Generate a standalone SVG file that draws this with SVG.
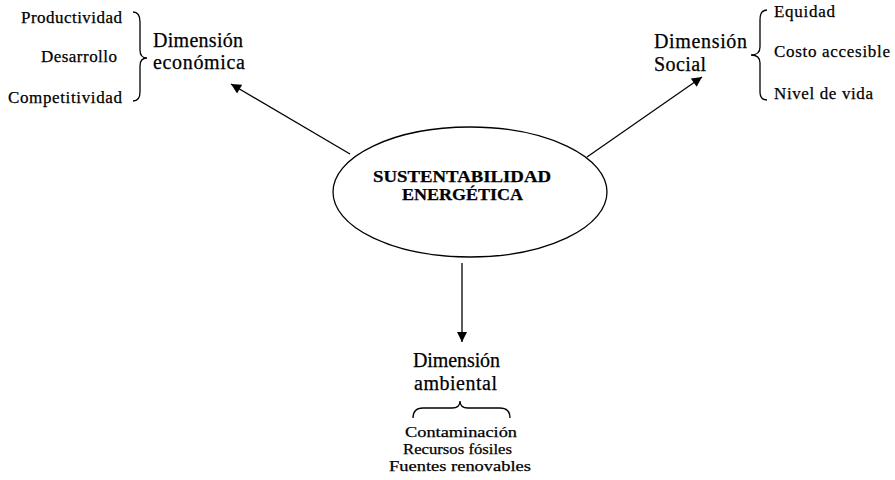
<svg xmlns="http://www.w3.org/2000/svg" width="895" height="480" viewBox="0 0 895 480">
<style>
.t{font-family:"Liberation Serif","Times New Roman",serif;fill:#000;stroke:#000;stroke-width:0.25}
.s{font-size:17px}
.l{font-size:15px}
.d{font-size:20px}
.b{font-size:16px;font-weight:bold}
.ln{stroke:#000;stroke-width:1.3;fill:none}
</style>
<defs>
<marker id="ah" viewBox="0 0 10 10" refX="10" refY="5" markerWidth="11" markerHeight="10" markerUnits="userSpaceOnUse" orient="auto">
<path d="M0,0 L10,5 L0,10 z" fill="#000"/>
</marker>
</defs>
<g id="connectors">
<line class="ln" x1="350" y1="154" x2="231" y2="84" marker-end="url(#ah)"/>
<line class="ln" x1="587" y1="157" x2="702" y2="77" marker-end="url(#ah)"/>
<line class="ln" x1="462" y1="263" x2="462" y2="342" marker-end="url(#ah)"/>
</g>
<g id="center">
<ellipse class="ln" cx="470" cy="192" rx="137" ry="65"/>
<text class="t b" x="373" y="182" textLength="178" lengthAdjust="spacingAndGlyphs">SUSTENTABILIDAD</text>
<text class="t b" x="402" y="200" textLength="121" lengthAdjust="spacingAndGlyphs">ENERGÉTICA</text>
</g>
<g id="economica">
<text class="t d" x="153" y="47" textLength="90">Dimensión</text>
<text class="t d" x="153" y="69" textLength="92">económica</text>
<path class="ln" d="M133,12 Q140,12 140,22 L140,50 Q140,58 147,58 Q140,58 140,66 L140,92 Q140,101 133,101"/>
<text class="t s" x="21" y="23" textLength="101">Productividad</text>
<text class="t s" x="41" y="62" textLength="76">Desarrollo</text>
<text class="t s" x="8" y="103" textLength="114">Competitividad</text>
</g>
<g id="social">
<text class="t d" x="654" y="48" textLength="93">Dimensión</text>
<text class="t d" x="654" y="71" textLength="52">Social</text>
<path class="ln" d="M767,10 Q760,10 760,20 L760,47 Q760,55 751,55 Q760,55 760,63 L760,92 Q760,100 767,100"/>
<text class="t s" x="774" y="17" textLength="61">Equidad</text>
<text class="t s" x="774" y="57" textLength="116">Costo accesible</text>
<text class="t s" x="774" y="99" textLength="99">Nivel de vida</text>
</g>
<g id="ambiental">
<text class="t d" x="413" y="367" textLength="87">Dimensión</text>
<text class="t d" x="414" y="390" textLength="83">ambiental</text>
<path class="ln" d="M413,418 Q413,408 423,408 L452,408 Q460,408 460,401 Q460,408 468,408 L500,408 Q510,408 510,418"/>
<text class="t l" x="405" y="437" textLength="112" lengthAdjust="spacingAndGlyphs">Contaminación</text>
<text class="t l" x="403" y="454" textLength="109" lengthAdjust="spacingAndGlyphs">Recursos fósiles</text>
<text class="t l" x="389" y="471" textLength="142" lengthAdjust="spacingAndGlyphs">Fuentes renovables</text>
</g>
</svg>
